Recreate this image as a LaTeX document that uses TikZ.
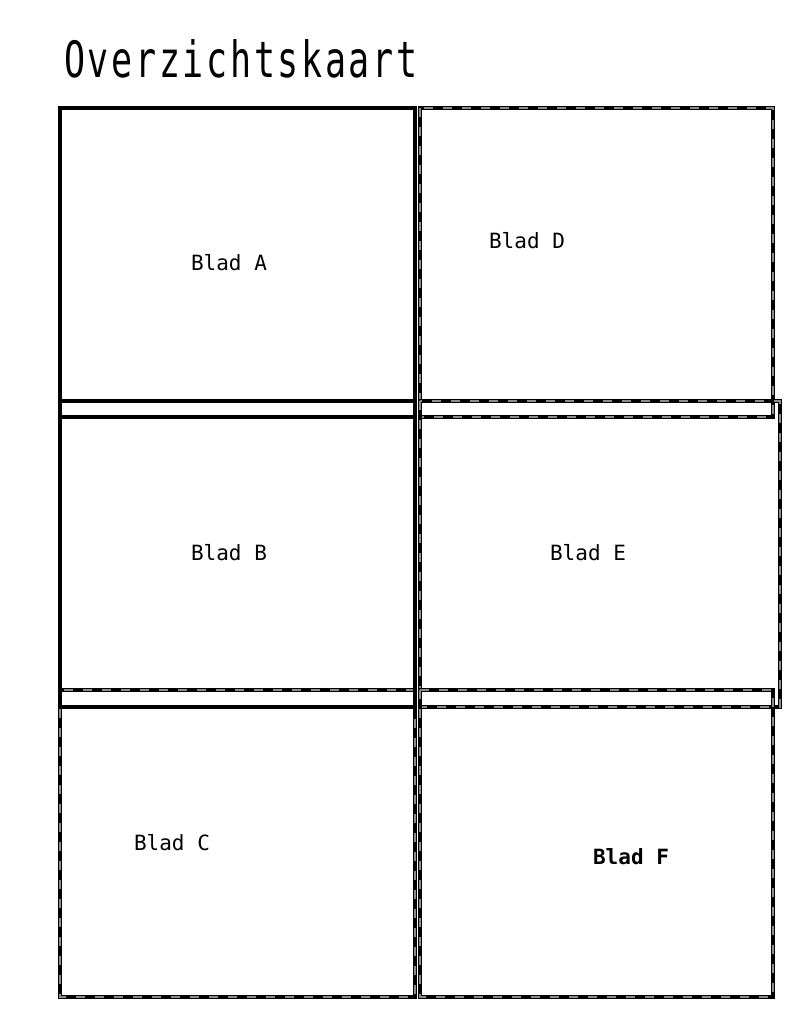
\documentclass[tikz,border=0pt]{standalone}
\usepackage{fontspec}
\newfontfamily\kaartfont{DejaVu Sans Mono}
\newfontfamily\titelfont[FakeStretch=0.70, LetterSpace=5.3]{DejaVu Sans Mono}
\begin{document}
\begin{tikzpicture}[x=0.75pt, y=-0.75pt,
  blad/.style={draw=black, line width=3.3pt, line join=miter},
  bladstreep/.style={draw=black!45, line width=0.9pt, dash pattern=on 6.75pt off 7.5pt},
  lbl/.style={font=\kaartfont\fontsize{15.75pt}{18pt}\selectfont, inner sep=0pt}
]
\useasboundingbox (0,0) rectangle (810,1018);
\node[anchor=base west, inner sep=0pt, font=\titelfont\fontsize{37.5pt}{40pt}\selectfont] (titel) at (64,77) {Overzichtskaart};

% bladen met gestreepte rand
\foreach \xa/\ya/\xb/\yb in {60/690/415/997, 420/108/773/417, 420/401/780/707, 420/690/773/997}{
  \draw[blad] (\xa,\ya) rectangle (\xb,\yb);
  \draw[bladstreep] (\xa,\ya) rectangle (\xb,\yb);
}
% bladen met doorlopende rand
\draw[blad] (60,108) rectangle (415,417);
\draw[blad] (60,401) rectangle (415,707);

\node[lbl] (bladA) at (229,263) {Blad A};
\node[lbl] (bladD) at (527,241) {Blad D};
\node[lbl] (bladB) at (229,553) {Blad B};
\node[lbl] (bladE) at (588,553) {Blad E};
\node[lbl] (bladC) at (172,843) {Blad C};
\node[lbl, font=\kaartfont\bfseries\fontsize{15.75pt}{18pt}\selectfont] (bladF) at (631,857) {Blad F};
\end{tikzpicture}
\end{document}
